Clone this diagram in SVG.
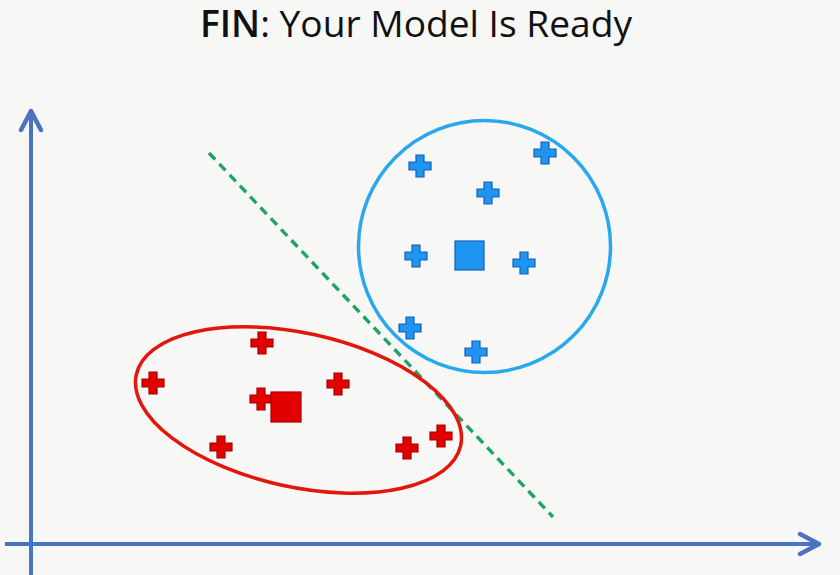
<svg xmlns="http://www.w3.org/2000/svg" xmlns:xlink="http://www.w3.org/1999/xlink" width="840" height="575" viewBox="0 0 840 575">
  <style>
    .axis { stroke: #4a73c2; stroke-width: 4; fill: none; }
    .boundary { stroke: #1fa463; stroke-width: 3.4; stroke-dasharray: 9 6; fill: none; }
    .red-ring { stroke: #e3160b; stroke-width: 3.5; fill: none; }
    .blue-ring { stroke: #2aa8ee; stroke-width: 3.5; fill: none; }
    .rp { fill: #e30000; stroke: #a50000; stroke-width: 1.2; }
    .bp { fill: #1e95f0; stroke: #145fb5; stroke-width: 1.2; }
    .title { font-family: "Open Sans", "Liberation Sans", sans-serif; font-size: 37px; font-weight: 400; fill: #111111; }
  </style>
  <defs>
    <path id="plus" d="M-4,-11 H4 V-4 H11 V4 H4 V11 H-4 V4 H-11 V-4 H-4 Z"/>
    <marker id="chev" markerUnits="userSpaceOnUse" viewBox="-24 -14 28 28" markerWidth="28" markerHeight="28" refX="0" refY="0" orient="auto">
      <path d="M-19,-10 L0,0 L-19,10" fill="none" stroke="#4a73c2" stroke-width="4.5" stroke-linecap="round" stroke-linejoin="round"/>
    </marker>
  </defs>
  <rect width="840" height="575" fill="#f7f7f5"/>

  <g id="title">
    <text class="title" x="200" y="37" textLength="432" lengthAdjust="spacingAndGlyphs"><tspan font-weight="600">FIN</tspan>: Your Model Is Ready</text>
  </g>

  <g id="connectors">
    <line id="y-axis" class="axis" x1="31" y1="575" x2="31" y2="111" marker-end="url(#chev)"/>
    <line id="x-axis" class="axis" x1="5" y1="544" x2="819" y2="544" marker-end="url(#chev)"/>
    <line id="decision-boundary" class="boundary" x1="209" y1="153" x2="553" y2="517"/>
  </g>

  <g id="cluster-red">
    <ellipse class="red-ring" cx="298.5" cy="410" rx="166" ry="77" transform="rotate(12.3 298.5 410)"/>
    <use href="#plus" class="rp" x="262" y="343"/>
    <use href="#plus" class="rp" x="153" y="383"/>
    <use href="#plus" class="rp" x="338" y="384"/>
    <use href="#plus" class="rp" x="261" y="399"/>
    <use href="#plus" class="rp" x="221" y="447"/>
    <use href="#plus" class="rp" x="407" y="448"/>
    <use href="#plus" class="rp" x="441" y="436"/>
    <rect id="red-centroid" class="rp" x="271" y="392" width="30" height="30"/>
  </g>

  <g id="cluster-blue">
    <circle class="blue-ring" cx="484.5" cy="246.5" r="126"/>
    <use href="#plus" class="bp" x="420" y="166"/>
    <use href="#plus" class="bp" x="545" y="153"/>
    <use href="#plus" class="bp" x="488" y="193"/>
    <use href="#plus" class="bp" x="416" y="256"/>
    <use href="#plus" class="bp" x="524" y="263"/>
    <use href="#plus" class="bp" x="410" y="328"/>
    <use href="#plus" class="bp" x="476" y="352"/>
    <rect id="blue-centroid" class="bp" x="455" y="241" width="29" height="29"/>
  </g>
</svg>
